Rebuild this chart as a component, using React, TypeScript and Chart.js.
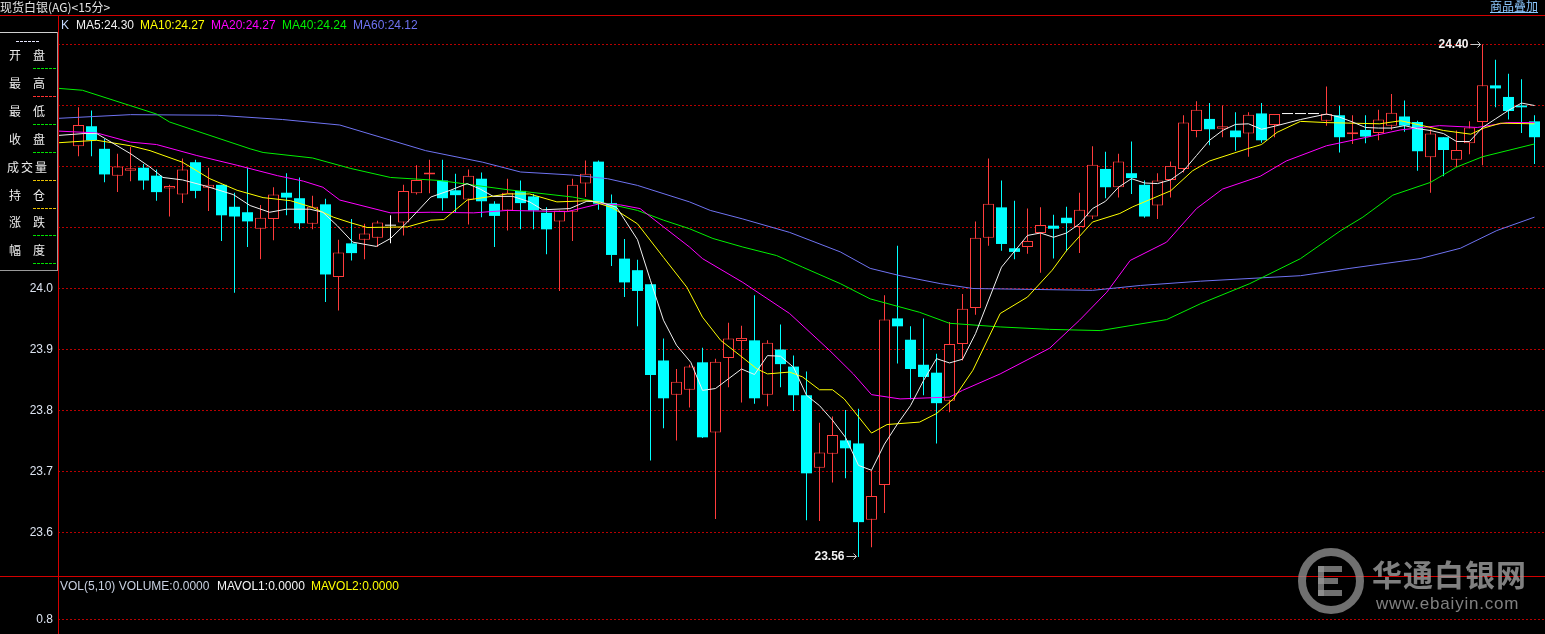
import React, { useEffect, useRef } from "react";
import { Chart, registerables } from "chart.js";

Chart.register(...registerables);

// ---------------- data ----------------
const candleOpen = [
  24.233, 24.266, 24.229, 24.185, 24.193, 24.198, 24.185, 24.164, 24.154, 24.207,
  24.165, 24.170, 24.134, 24.125, 24.098, 24.114, 24.157, 24.148, 24.106, 24.138,
  24.019, 24.074, 24.080, 24.083, 24.103, 24.108, 24.156, 24.187, 24.177, 24.161,
  24.146, 24.180, 24.139, 24.128, 24.160, 24.151, 24.124, 24.110, 24.126, 24.172,
  24.208, 24.140, 24.049, 24.030, 24.007, 23.882, 23.826, 23.834, 23.879, 23.764,
  23.886, 23.914, 23.915, 23.826, 23.900, 23.872, 23.825, 23.706, 23.729, 23.751,
  23.746, 23.621, 23.678, 23.951, 23.916, 23.875, 23.862, 23.816, 23.909, 23.968,
  24.083, 24.133, 24.066, 24.068, 24.091, 24.103, 24.116, 24.101, 24.118, 24.196,
  24.166, 24.189, 24.170, 24.136, 24.178, 24.196, 24.258, 24.278, 24.262, 24.259,
  24.254, 24.287, 24.268, 24.286, 24.286, 24.286, 24.275, 24.284, 24.253, 24.260,
  24.255, 24.267, 24.282, 24.273, 24.215, 24.248, 24.211, 24.238, 24.273, 24.333,
  24.314, 24.300, 24.274,
];
const candleHigh = [
  24.297, 24.292, 24.245, 24.221, 24.232, 24.204, 24.195, 24.170, 24.213, 24.211,
  24.198, 24.170, 24.157, 24.198, 24.137, 24.166, 24.189, 24.182, 24.152, 24.147,
  24.080, 24.114, 24.106, 24.111, 24.120, 24.170, 24.202, 24.211, 24.211, 24.188,
  24.195, 24.190, 24.143, 24.180, 24.177, 24.155, 24.133, 24.128, 24.180, 24.210,
  24.210, 24.154, 24.081, 24.047, 24.007, 23.918, 23.868, 23.875, 23.903, 23.885,
  23.944, 23.939, 23.989, 23.915, 23.941, 23.890, 23.864, 23.780, 23.790, 23.801,
  23.803, 23.702, 23.989, 24.070, 23.938, 23.951, 23.893, 23.945, 23.991, 24.110,
  24.213, 24.177, 24.144, 24.131, 24.133, 24.121, 24.134, 24.157, 24.233, 24.224,
  24.221, 24.241, 24.177, 24.189, 24.208, 24.284, 24.307, 24.304, 24.300, 24.289,
  24.289, 24.304, 24.286, 24.286, 24.286, 24.286, 24.331, 24.300, 24.284, 24.284,
  24.293, 24.319, 24.308, 24.275, 24.261, 24.248, 24.259, 24.274, 24.400, 24.375,
  24.352, 24.343, 24.284,
];
const candleLow = [
  24.217, 24.217, 24.174, 24.158, 24.176, 24.162, 24.144, 24.118, 24.140, 24.148,
  24.127, 24.078, 23.993, 24.068, 24.048, 24.079, 24.120, 24.097, 24.097, 23.978,
  23.964, 24.046, 24.048, 24.068, 24.074, 24.087, 24.154, 24.156, 24.128, 24.125,
  24.105, 24.117, 24.068, 24.095, 24.097, 24.097, 24.056, 23.996, 24.078, 24.150,
  24.129, 24.037, 23.986, 23.938, 23.718, 23.771, 23.751, 23.805, 23.755, 23.622,
  23.838, 23.813, 23.811, 23.807, 23.838, 23.799, 23.620, 23.619, 23.682, 23.689,
  23.560, 23.576, 23.632, 23.877, 23.818, 23.825, 23.746, 23.797, 23.882, 23.957,
  24.070, 24.062, 24.048, 24.057, 24.026, 24.049, 24.061, 24.058, 24.114, 24.148,
  24.149, 24.155, 24.116, 24.114, 24.149, 24.190, 24.248, 24.235, 24.248, 24.226,
  24.216, 24.239, 24.248, 24.286, 24.286, 24.286, 24.267, 24.223, 24.237, 24.238,
  24.243, 24.260, 24.257, 24.193, 24.157, 24.184, 24.199, 24.220, 24.202, 24.297,
  24.277, 24.255, 24.204,
];
const candleClose = [
  24.268, 24.243, 24.187, 24.200, 24.197, 24.177, 24.158, 24.168, 24.195, 24.160,
  24.170, 24.120, 24.118, 24.110, 24.116, 24.154, 24.149, 24.107, 24.134, 24.023,
  24.059, 24.058, 24.090, 24.108, 24.103, 24.160, 24.178, 24.190, 24.148, 24.153,
  24.185, 24.143, 24.119, 24.157, 24.140, 24.128, 24.097, 24.128, 24.170, 24.188,
  24.139, 24.055, 24.010, 23.996, 23.858, 23.820, 23.847, 23.872, 23.756, 23.880,
  23.918, 23.919, 23.820, 23.911, 23.876, 23.825, 23.697, 23.731, 23.760, 23.738,
  23.617, 23.660, 23.949, 23.938, 23.868, 23.855, 23.812, 23.909, 23.967, 24.083,
  24.139, 24.073, 24.060, 24.078, 24.104, 24.098, 24.107, 24.129, 24.203, 24.166,
  24.208, 24.181, 24.118, 24.177, 24.201, 24.272, 24.293, 24.261, 24.266, 24.248,
  24.285, 24.243, 24.286, 24.286, 24.286, 24.286, 24.286, 24.248, 24.256, 24.249,
  24.277, 24.288, 24.267, 24.225, 24.254, 24.227, 24.227, 24.264, 24.333, 24.328,
  24.291, 24.297, 24.248,
];

// moving averages: [candle index, price]
const ma5Points: [number, number][] = [
  [-1.5, 24.251], [0.4, 24.254], [1.4, 24.254], [4.0, 24.221], [5.5, 24.199], [6.5, 24.182],
  [8.0, 24.178], [9.6, 24.169], [11.9, 24.154], [13.2, 24.136], [14.7, 24.125], [16.0, 24.130],
  [17.8, 24.130], [18.8, 24.125], [19.9, 24.103], [21.1, 24.076], [22.9, 24.069], [24.0, 24.082],
  [25.3, 24.109], [27.1, 24.150], [28.6, 24.161], [29.9, 24.172], [30.9, 24.163], [31.9, 24.151],
  [33.4, 24.151], [34.7, 24.142], [35.7, 24.129], [37.8, 24.131], [39.1, 24.143], [40.1, 24.142],
  [41.4, 24.133], [43.0, 24.080], [44.0, 24.013], [45.0, 23.948], [46.0, 23.907], [47.1, 23.879],
  [48.0, 23.833], [49.0, 23.836], [50.0, 23.852], [51.0, 23.868], [52.0, 23.859], [53.0, 23.890],
  [54.0, 23.889], [55.0, 23.871], [56.0, 23.825], [57.0, 23.808], [58.0, 23.784], [59.0, 23.756],
  [60.0, 23.710], [61.0, 23.702], [62.0, 23.745], [63.0, 23.778], [64.0, 23.808], [65.0, 23.849],
  [66.0, 23.885], [67.0, 23.878], [68.0, 23.884], [69.0, 23.926], [71.0, 24.035], [73.0, 24.087],
  [74.0, 24.091], [75.0, 24.084], [76.0, 24.091], [77.0, 24.106], [78.0, 24.131], [79.0, 24.143],
  [80.0, 24.166], [81.0, 24.180], [82.0, 24.173], [83.0, 24.172], [84.0, 24.178], [85.0, 24.193],
  [86.0, 24.218], [87.0, 24.243], [88.0, 24.259], [89.0, 24.269], [90.0, 24.270], [91.0, 24.261],
  [92.0, 24.266], [94.0, 24.277], [96.0, 24.286], [97.0, 24.281], [98.0, 24.273], [99.0, 24.264],
  [100.0, 24.263], [101.0, 24.263], [102.0, 24.267], [103.0, 24.262], [104.0, 24.259], [105.0, 24.254],
  [106.0, 24.241], [107.0, 24.241], [108.0, 24.264], [109.0, 24.278], [110.0, 24.292], [111.0, 24.304],
  [112.0, 24.300],
];
const ma10Points: [number, number][] = [
  [-1.5, 24.239], [1.4, 24.243], [4.0, 24.234], [5.5, 24.226], [8.0, 24.207], [10.1, 24.180],
  [12.2, 24.161], [14.2, 24.149], [16.3, 24.144], [18.0, 24.133], [19.6, 24.117], [20.9, 24.108],
  [22.2, 24.100], [25.3, 24.101], [27.1, 24.112], [28.1, 24.113], [29.9, 24.145], [33.0, 24.155],
  [34.7, 24.155], [36.8, 24.142], [39.4, 24.144], [41.1, 24.132], [43.0, 24.106], [45.0, 24.051],
  [46.8, 24.002], [48.0, 23.953], [49.4, 23.915], [50.9, 23.890], [52.2, 23.868], [53.0, 23.860],
  [54.7, 23.863], [55.7, 23.855], [57.0, 23.834], [58.0, 23.834], [58.9, 23.819], [61.0, 23.763],
  [62.2, 23.777], [64.7, 23.781], [66.0, 23.795], [67.3, 23.819], [68.8, 23.866], [70.9, 23.959],
  [73.0, 23.986], [74.9, 24.030], [76.0, 24.062], [78.0, 24.109], [80.1, 24.123], [81.1, 24.134],
  [84.0, 24.160], [85.7, 24.193], [87.0, 24.209], [89.9, 24.229], [91.0, 24.236], [92.2, 24.256],
  [94.0, 24.274], [96.0, 24.272], [98.0, 24.271], [100.1, 24.270], [101.7, 24.275], [103.4, 24.267],
  [105.0, 24.259], [107.1, 24.253], [108.1, 24.263], [109.4, 24.271], [112.0, 24.270],
];
const ma20Points: [number, number][] = [
  [-1.5, 24.258], [1.4, 24.255], [4.0, 24.240], [6.0, 24.236], [9.1, 24.218], [12.2, 24.202],
  [15.3, 24.185], [17.3, 24.176], [18.8, 24.166], [20.1, 24.145], [24.0, 24.124], [27.1, 24.125],
  [30.4, 24.124], [33.0, 24.128], [37.6, 24.126], [40.1, 24.139], [41.7, 24.137], [43.2, 24.131],
  [45.0, 24.101], [47.0, 24.068], [48.0, 24.049], [51.1, 24.010], [54.7, 23.959], [57.8, 23.898],
  [59.6, 23.860], [61.0, 23.826], [63.2, 23.819], [67.0, 23.822], [68.0, 23.833], [70.9, 23.860],
  [74.7, 23.902], [77.0, 23.948], [79.1, 23.994], [80.9, 24.046], [83.7, 24.076], [86.0, 24.131],
  [88.0, 24.163], [90.9, 24.184], [92.9, 24.209], [96.0, 24.234], [99.1, 24.248], [101.7, 24.260],
  [104.7, 24.267], [107.6, 24.264], [109.9, 24.272], [112.0, 24.272],
];
const ma40Points: [number, number][] = [
  [-1.5, 24.328], [0.3, 24.325], [6.0, 24.286], [7.0, 24.273], [13.2, 24.229], [14.2, 24.223],
  [18.0, 24.214], [20.9, 24.197], [24.0, 24.182], [27.8, 24.177], [33.0, 24.162], [38.0, 24.150],
  [40.7, 24.139], [43.0, 24.128], [45.0, 24.112], [47.0, 24.098], [48.8, 24.082], [51.1, 24.068],
  [53.7, 24.054], [55.7, 24.035], [58.6, 24.008], [60.9, 23.983], [64.7, 23.961], [67.0, 23.943],
  [70.9, 23.937], [74.7, 23.933], [78.6, 23.931], [83.7, 23.949], [86.3, 23.975], [90.1, 24.008],
  [94.0, 24.049], [97.1, 24.095], [98.8, 24.117], [101.1, 24.153], [104.0, 24.174], [106.0, 24.199],
  [108.0, 24.216], [112.0, 24.237],
];
const ma60Points: [number, number][] = [
  [-1.5, 24.279], [4.0, 24.285], [10.7, 24.284], [15.7, 24.277], [20.1, 24.268], [26.7, 24.226],
  [31.1, 24.207], [34.0, 24.191], [38.0, 24.186], [40.7, 24.180], [43.0, 24.169], [47.0, 24.142],
  [48.6, 24.128], [51.1, 24.114], [54.7, 24.092], [58.6, 24.060], [60.9, 24.033], [63.2, 24.021],
  [66.3, 24.008], [68.8, 24.000], [78.0, 23.997], [81.7, 24.005], [86.3, 24.012], [94.0, 24.021],
  [97.8, 24.033], [103.2, 24.049], [106.3, 24.066], [109.1, 24.095], [112.0, 24.117],
];

const priceTicks = [23.6, 23.7, 23.8, 23.9, 24.0, 24.1, 24.2, 24.3, 24.4];
const volumeTicks = [0.8];
const maNames = ["MA5", "MA10", "MA20", "MA40", "MA60"];
const maValues = ["24.30", "24.27", "24.27", "24.24", "24.12"];
const panelLabels = ["开盘", "最高", "最低", "收盘", "成交量", "持仓", "涨跌", "幅度"];
const volumeLegend = ["VOL(5,10) VOLUME:0.0000", "MAVOL1:0.0000", "MAVOL2:0.0000"];
const titleText = "现货白银(AG)<15分>";
const overlayText = "商品叠加";
const brandName = "华通白银网";
const brandUrl = "www.ebaiyin.com";

// ---------------- layout / style ----------------
const W = 1545;
const H = 634;
const PLOT_LEFT = 58;
const PRICE_TOP = 15;
const PRICE_BOTTOM = 576;
const STEP = 13;
const FIRST_X = 78.5;
const X_MIN = -(FIRST_X - PLOT_LEFT) / STEP;
const X_MAX = X_MIN + (W - PLOT_LEFT) / STEP;
const PX_PER_UNIT = 610;
const PRICE_MAX = 24 + (288.5 - PRICE_TOP) / PX_PER_UNIT;
const PRICE_MIN = PRICE_MAX - (PRICE_BOTTOM - PRICE_TOP) / PX_PER_UNIT;
const VOL_H = H - PRICE_BOTTOM - 1;
const VOL_MAX = 1.0;
const VOL_MIN = VOL_MAX - (0.2 * VOL_H) / 42.5;

const UP = "#ff3c3c";
const DOWN = "#00ffff";
const FLAT = "#ffffff";
const GRID = "#b80000";
const AXIS_RED = "#d40000";
const maColors = ["#f0f0f0", "#ffff00", "#ff00ff", "#00f000", "#6f73f2"];
const LATIN = '"Liberation Sans", Arial, sans-serif';
const CJK = '"Noto Sans CJK SC", "Noto Sans", sans-serif';
const dashColors = ["#00e000", "#ff3030", "#00e000", "#00e000", "#e8c000", "#e8c000", "#00e000", "#00e000"];

const extremesPlugin = {
  id: "extremes",
  afterDatasetsDraw(chart: any) {
    const { ctx, scales } = chart;
    const x = scales.x;
    const y = scales.y;
    let hi = 0;
    let lo = 0;
    for (let i = 0; i < candleHigh.length; i++) {
      if (candleHigh[i] > candleHigh[hi]) hi = i;
      if (candleLow[i] < candleLow[lo]) lo = i;
    }
    const mark = (i: number, v: number) => {
      const px = x.getPixelForValue(i);
      const py = Math.round(y.getPixelForValue(v)) - 0.5;
      ctx.save();
      ctx.font = `bold 12px ${LATIN}`;
      ctx.fillStyle = "#f4f4f4";
      ctx.textAlign = "right";
      ctx.textBaseline = "middle";
      ctx.fillText(v.toFixed(2), px - 14, py);
      ctx.strokeStyle = "#c8c8c8";
      ctx.lineWidth = 1;
      ctx.beginPath();
      ctx.moveTo(px - 12, py);
      ctx.lineTo(px - 2, py);
      ctx.moveTo(px - 5, py - 3);
      ctx.lineTo(px - 2, py);
      ctx.lineTo(px - 5, py + 3);
      ctx.stroke();
      ctx.restore();
    };
    mark(hi, candleHigh[hi]);
    mark(lo, candleLow[lo]);
  },
};

export default function App() {
  const priceRef = useRef<HTMLCanvasElement>(null);
  const volRef = useRef<HTMLCanvasElement>(null);

  useEffect(() => {
    document.body.style.margin = "0";
    document.body.style.background = "#000";
    const n = candleOpen.length;
    const idx = Array.from({ length: n }, (_, i) => i);
    const isUp = (i: number) => candleClose[i] > candleOpen[i];
    const colorOf = (i: number) =>
      candleClose[i] > candleOpen[i] ? UP : candleClose[i] < candleOpen[i] ? DOWN : FLAT;

    const maSets = [ma5Points, ma10Points, ma20Points, ma40Points, ma60Points].map((pts, k) => ({
      type: "line" as const,
      label: maNames[k],
      data: pts.map(([x, y]) => ({ x, y })),
      borderColor: maColors[k],
      borderWidth: 1,
      pointRadius: 0,
      tension: 0,
      fill: false,
      order: k,
    }));

    const yAxisBase = (ticksArr: number[], fmt: (v: number) => string) => ({
      type: "linear" as const,
      position: "left" as const,
      afterBuildTicks: (ax: any) => {
        ax.ticks = ticksArr.map((v) => ({ value: v }));
      },
      afterFit: (ax: any) => {
        ax.width = PLOT_LEFT;
        ax.paddingTop = 0;
        ax.paddingBottom = 0;
      },
      ticks: {
        color: "#dce3f0",
        font: { family: LATIN, size: 12 },
        padding: 5,
        autoSkip: false,
        callback: (v: any) => fmt(Number(v)),
      },
      grid: { color: GRID, lineWidth: 1, drawTicks: false },
      border: { display: false, dash: [2, 2] },
    });

    const xAxis = {
      type: "linear" as const,
      min: X_MIN,
      max: X_MAX,
      offset: false,
      display: false,
      grid: { offset: false },
    };

    const priceChart = new Chart(priceRef.current!, {
      type: "bar",
      data: {
        datasets: [
          ...maSets,
          {
            type: "bar",
            label: "body",
            data: idx.map((i) => ({ x: i, y: [candleOpen[i], candleClose[i]] })),
            backgroundColor: idx.map((i) => (isUp(i) ? "#000000" : colorOf(i))),
            borderColor: idx.map(colorOf),
            borderWidth: idx.map((i) => (isUp(i) ? 1 : 0)),
            borderSkipped: false,
            barThickness: 11,
            grouped: false,
            inflateAmount: 0,
            minBarLength: 1,
            order: 10,
          } as any,
          {
            type: "bar",
            label: "wick",
            data: idx.map((i) => ({ x: i, y: [candleLow[i], candleHigh[i]] })),
            backgroundColor: idx.map(colorOf),
            borderWidth: 0,
            barThickness: 1,
            grouped: false,
            inflateAmount: 0,
            order: 11,
          } as any,
        ],
      },
      options: {
        responsive: false,
        animation: false,
        events: [],
        layout: { padding: { top: PRICE_TOP, left: 0, right: 0, bottom: 0 } },
        plugins: { legend: { display: false }, tooltip: { enabled: false } },
        scales: {
          x: xAxis,
          y: {
            ...yAxisBase(priceTicks, (v) => (v <= 24.0001 ? v.toFixed(1) : "")),
            min: PRICE_MIN,
            max: PRICE_MAX,
          },
        },
      } as any,
      plugins: [extremesPlugin],
    });

    const volChart = new Chart(volRef.current!, {
      type: "bar",
      data: { datasets: [{ type: "bar", label: "VOLUME", data: [] }] },
      options: {
        responsive: false,
        animation: false,
        events: [],
        layout: { padding: 0 },
        plugins: { legend: { display: false }, tooltip: { enabled: false } },
        scales: {
          x: xAxis,
          y: { ...yAxisBase(volumeTicks, (v) => v.toFixed(1)), min: VOL_MIN, max: VOL_MAX },
        },
      } as any,
    });

    return () => {
      priceChart.destroy();
      volChart.destroy();
    };
  }, []);

  const abs = (s: React.CSSProperties): React.CSSProperties => ({ position: "absolute", ...s });
  const legendLefts = [76, 140, 211, 282, 353];
  const volLefts = [60, 217, 311];
  const volColors = ["#c8d0e0", "#f4f4f4", "#ffff00"];

  return (
    <div style={{ position: "relative", width: W, height: H, background: "#000", overflow: "hidden" }}>
      <canvas ref={priceRef} width={W} height={PRICE_BOTTOM} style={abs({ left: 0, top: 0, width: W, height: PRICE_BOTTOM })} />
      <canvas ref={volRef} width={W} height={VOL_H} style={abs({ left: 0, top: PRICE_BOTTOM + 1, width: W, height: VOL_H })} />

      {/* frame lines */}
      <div style={abs({ left: 0, top: PRICE_TOP, width: W, height: 1, background: AXIS_RED })} />
      <div style={abs({ left: 0, top: PRICE_BOTTOM, width: W, height: 1, background: AXIS_RED })} />
      <div style={abs({ left: PLOT_LEFT, top: PRICE_TOP, width: 1, height: H - PRICE_TOP, background: AXIS_RED })} />

      {/* header */}
      <div style={abs({ left: 0, top: 0, font: `12px/14px ${CJK}`, color: "#e4e4e4", whiteSpace: "nowrap" })}>{titleText}</div>
      <div style={abs({ left: 1490, top: -1, font: `12px/14px ${CJK}`, color: "#8cc8ff", textDecoration: "underline", whiteSpace: "nowrap" })}>{overlayText}</div>

      {/* MA legend */}
      <div style={abs({ left: 61, top: 18, font: `12px/14px ${LATIN}`, color: "#c4d8ff" })}>K</div>
      {maNames.map((nm, k) => (
        <div key={nm} style={abs({ left: legendLefts[k], top: 18, font: `12px/14px ${LATIN}`, color: maColors[k], whiteSpace: "nowrap" })}>
          {`${nm}:${maValues[k]}`}
        </div>
      ))}

      {/* left info panel */}
      <div style={abs({ left: 0, top: 32, width: 57, height: 1, background: "#d0d0d0" })} />
      <div style={abs({ left: 57, top: 32, width: 1, height: 239, background: "#9a9a9a" })} />
      <div style={abs({ left: 0, top: 270, width: 57, height: 1, background: "#9a9a9a" })} />
      <div style={abs({ left: 16, top: 41, width: 24, height: 1, background: "repeating-linear-gradient(90deg, #e8e8ff 0 3px, transparent 3px 4px)" })} />
      {panelLabels.map((lb, k) => {
        const cy = 55 + 27.9 * k;
        const chars = Array.from(lb);
        const lefts = chars.length === 3 ? [7, 21, 35] : [9, 33];
        return (
          <React.Fragment key={lb}>
            {chars.map((ch, j) => (
              <div key={j} style={abs({ left: lefts[j], top: cy - 7, font: `12px/14px ${CJK}`, color: "#ececec" })}>{ch}</div>
            ))}
            <div
              style={abs({
                left: 33,
                top: Math.round(cy + 13),
                width: 24,
                height: 1,
                background: `repeating-linear-gradient(90deg, ${dashColors[k]} 0 3px, transparent 3px 4px)`,
              })}
            />
          </React.Fragment>
        );
      })}

      {/* volume legend */}
      {volumeLegend.map((t, k) => (
        <div key={t} style={abs({ left: volLefts[k], top: 579, font: `12px/14px ${LATIN}`, color: volColors[k], whiteSpace: "nowrap" })}>{t}</div>
      ))}

      {/* watermark */}
      <div style={abs({ left: 1298, top: 548, width: 66, height: 66, borderRadius: "50%", border: "8px solid rgba(150,150,150,0.75)", boxSizing: "border-box" })} />
      <div style={abs({ left: 1318, top: 566, width: 6, height: 30, background: "rgba(150,150,150,0.75)" })} />
      <div style={abs({ left: 1318, top: 566, width: 24, height: 6, background: "rgba(150,150,150,0.75)" })} />
      <div style={abs({ left: 1318, top: 578, width: 20, height: 6, background: "rgba(150,150,150,0.75)" })} />
      <div style={abs({ left: 1318, top: 590, width: 24, height: 6, background: "rgba(150,150,150,0.75)" })} />
      <div style={abs({ left: 1372, top: 555, font: `bold 30px/36px ${CJK}`, letterSpacing: 1, color: "rgba(160,160,160,0.8)", whiteSpace: "nowrap" })}>{brandName}</div>
      <div style={abs({ left: 1376, top: 594, font: `17px/20px ${LATIN}`, letterSpacing: 0.8, color: "rgba(160,160,160,0.8)", whiteSpace: "nowrap" })}>{brandUrl}</div>
    </div>
  );
}
